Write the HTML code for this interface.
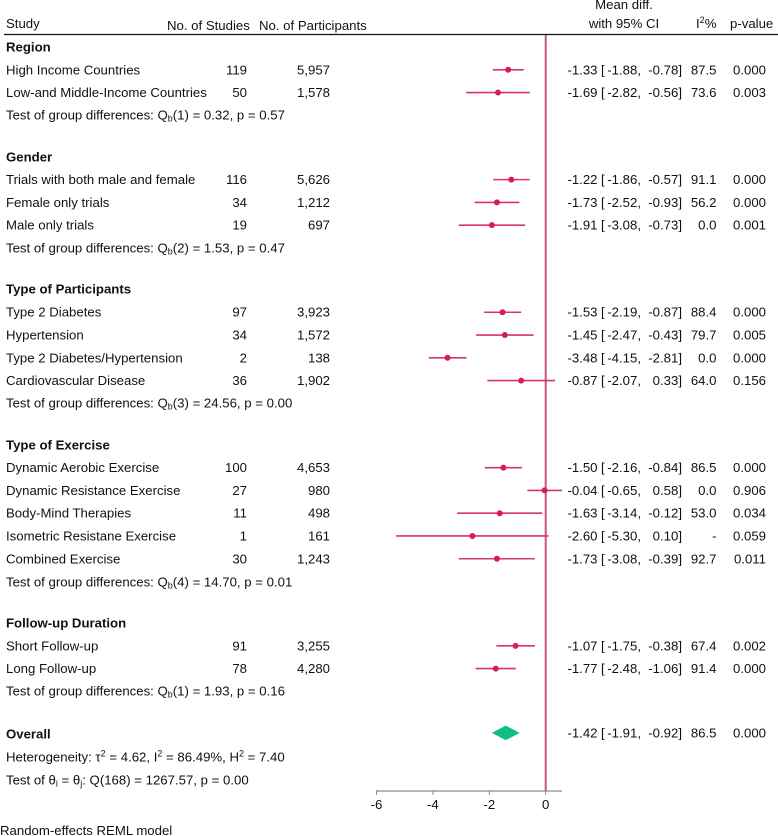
<!DOCTYPE html>
<html lang="en">
<head>
<meta charset="utf-8">
<title>Forest plot</title>
<style>
html,body{margin:0;padding:0;background:#fff;}
svg{display:block;}
text{font-family:"Liberation Sans",Arial,sans-serif;font-size:13.2px;fill:#111;}
.b{font-weight:bold;}
.s{font-size:9px;}
</style>
</head>
<body>
<svg id="chart" width="778" height="836" viewBox="0 0 778 836" xmlns="http://www.w3.org/2000/svg">
  <g>
    <text x="6" y="28">Study</text>
    <text x="167" y="30">No. of Studies</text>
    <text x="259" y="30">No. of Participants</text>
    <text x="624" y="9" text-anchor="middle">Mean diff.</text>
    <text x="624" y="28" text-anchor="middle">with 95% CI</text>
    <text x="696" y="28">I<tspan class="s" dy="-5">2</tspan><tspan dy="5">%</tspan></text>
    <text x="730" y="28">p-value</text>
    <line x1="4" x2="778" y1="34.5" y2="34.5" stroke="#111" stroke-width="1.2"/>
  </g>
  <g>
    <text class="b" x="6" y="51.5">Region</text>
    <text class="b" x="6" y="161.5">Gender</text>
    <text class="b" x="6" y="293.5">Type of Participants</text>
    <text class="b" x="6" y="449.5">Type of Exercise</text>
    <text class="b" x="6" y="627.5">Follow-up Duration</text>
    <text class="b" x="6" y="738.5">Overall</text>
  </g>
  <g>
    <text x="6" y="119.5">Test of group differences: Q<tspan class="s" dy="2">b</tspan><tspan dy="-2">(1) = 0.32, p = 0.57</tspan></text>
    <text x="6" y="252.5">Test of group differences: Q<tspan class="s" dy="2">b</tspan><tspan dy="-2">(2) = 1.53, p = 0.47</tspan></text>
    <text x="6" y="407.5">Test of group differences: Q<tspan class="s" dy="2">b</tspan><tspan dy="-2">(3) = 24.56, p = 0.00</tspan></text>
    <text x="6" y="586.5">Test of group differences: Q<tspan class="s" dy="2">b</tspan><tspan dy="-2">(4) = 14.70, p = 0.01</tspan></text>
    <text x="6" y="695.5">Test of group differences: Q<tspan class="s" dy="2">b</tspan><tspan dy="-2">(1) = 1.93, p = 0.16</tspan></text>
    <text x="6" y="761.5">Heterogeneity: τ<tspan class="s" dy="-5">2</tspan><tspan dy="5"> = 4.62, I</tspan><tspan class="s" dy="-5">2</tspan><tspan dy="5"> = 86.49%, H</tspan><tspan class="s" dy="-5">2</tspan><tspan dy="5"> = 7.40</tspan></text>
    <text x="6" y="784.5">Test of θ<tspan class="s" dy="2">i</tspan><tspan dy="-2"> = θ</tspan><tspan class="s" dy="2">j</tspan><tspan dy="-2">: Q(168) = 1267.57, p = 0.00</tspan></text>
    <text x="0" y="835">Random-effects REML model</text>
  </g>
  <g id="rows"></g>
  <g id="axis"></g>
  <g id="marks"></g>
</svg>
<script>
const sectionSizes = [2, 3, 4, 5, 2];
const categories = [
  "High Income Countries", "Low-and Middle-Income Countries",
  "Trials with both male and female", "Female only trials", "Male only trials",
  "Type 2 Diabetes", "Hypertension", "Type 2 Diabetes/Hypertension", "Cardiovascular Disease",
  "Dynamic Aerobic Exercise", "Dynamic Resistance Exercise", "Body-Mind Therapies", "Isometric Resistane Exercise", "Combined Exercise",
  "Short Follow-up", "Long Follow-up"
];
const studies = [119, 50, 116, 34, 19, 97, 34, 2, 36, 100, 27, 11, 1, 30, 91, 78];
const participants = ["5,957", "1,578", "5,626", "1,212", "697", "3,923", "1,572", "138", "1,902", "4,653", "980", "498", "161", "1,243", "3,255", "4,280"];
const meanDiff = [-1.33, -1.69, -1.22, -1.73, -1.91, -1.53, -1.45, -3.48, -0.87, -1.50, -0.04, -1.63, -2.60, -1.73, -1.07, -1.77];
const ciLower = [-1.88, -2.82, -1.86, -2.52, -3.08, -2.19, -2.47, -4.15, -2.07, -2.16, -0.65, -3.14, -5.30, -3.08, -1.75, -2.48];
const ciUpper = [-0.78, -0.56, -0.57, -0.93, -0.73, -0.87, -0.43, -2.81, 0.33, -0.84, 0.58, -0.12, 0.10, -0.39, -0.38, -1.06];
const iSquared = ["87.5", "73.6", "91.1", "56.2", "0.0", "88.4", "79.7", "0.0", "64.0", "86.5", "0.0", "53.0", "-", "92.7", "67.4", "91.4"];
const pValues = ["0.000", "0.003", "0.000", "0.000", "0.001", "0.000", "0.005", "0.000", "0.156", "0.000", "0.906", "0.034", "0.059", "0.011", "0.002", "0.000"];
const overallMean = -1.42;
const overallLower = -1.91;
const overallUpper = -0.92;
const overallI2 = "86.5";
const overallP = "0.000";
const xTicks = [-6, -4, -2, 0];

const NS = "http://www.w3.org/2000/svg";
const ROW_STEP = 22.78, SECTION_GAP = 41.5, FIRST_TITLE = 47;
const AXIS_Y = 791, TOP_Y = 35;
const LINE_PINK = "#d6336f", MARK_PINK = "#d81b60", REF_LINE = "#c4547d";

function xScale(v) { return 545.7 + v * 28.2; }

function make(tag, attrs, parent) {
  const el = document.createElementNS(NS, tag);
  for (const k in attrs) el.setAttribute(k, attrs[k]);
  parent.appendChild(el);
  return el;
}

function sectionTop(s) {
  let y = FIRST_TITLE;
  for (let i = 0; i < s; i++) y += (sectionSizes[i] + 1) * ROW_STEP + SECTION_GAP;
  return y;
}

function rowCentre(index) {
  let seen = 0;
  for (let s = 0; s < sectionSizes.length; s++) {
    if (index < seen + sectionSizes[s]) return sectionTop(s) + (index - seen + 1) * ROW_STEP;
    seen += sectionSizes[s];
  }
  return sectionTop(sectionSizes.length);
}

function addCell(parent, name, str, x, y, anchor) {
  const t = make("text", { x: x, y: y + 4.5, "text-anchor": anchor }, parent);
  t.textContent = str;
  
  
  return t;
}

function addStats(parent, mean, lo, hi, i2, p, y) {
  addCell(parent, "mean-difference", mean.toFixed(2), 597.5, y, "end");
  addCell(parent, "ci-open-bracket", "[", 601, y, "start");
  addCell(parent, "ci-lower", lo.toFixed(2) + ",", 641, y, "end");
  addCell(parent, "ci-upper", hi.toFixed(2) + "]", 682, y, "end");
  addCell(parent, "i-squared", i2, 716.5, y, "end");
  addCell(parent, "p-value", p, 766, y, "end");
}

const rowsLayer = document.getElementById("rows");
const marksLayer = document.getElementById("marks");
const axisLayer = document.getElementById("axis");

const refLine = make("line", { x1: xScale(0), x2: xScale(0), y1: TOP_Y, y2: AXIS_Y, stroke: REF_LINE, "stroke-width": 2 }, marksLayer);



categories.forEach(function (label, i) {
  const y = rowCentre(i);
  const row = make("g", {}, rowsLayer);
  
  
  addCell(row, "study-label", label, 6, y, "start");
  addCell(row, "study-count", String(studies[i]), 247, y, "end");
  addCell(row, "participant-count", participants[i], 330, y, "end");
  addStats(row, meanDiff[i], ciLower[i], ciUpper[i], iSquared[i], pValues[i], y);

  const ci = make("line", { x1: xScale(ciLower[i]), x2: xScale(ciUpper[i]), y1: y, y2: y, stroke: LINE_PINK, "stroke-width": 1.6 }, marksLayer);
  
  

  const dot = make("circle", { cx: xScale(meanDiff[i]), cy: y, r: 3, fill: MARK_PINK }, marksLayer);
  
  
});

const overallY = sectionTop(sectionSizes.length);
const overallRow = make("g", {}, rowsLayer);


addStats(overallRow, overallMean, overallLower, overallUpper, overallI2, overallP, overallY);

const diamond = make("polygon", {
  points: [
    [xScale(overallLower), overallY],
    [xScale(overallMean), overallY - 7.3],
    [xScale(overallUpper), overallY],
    [xScale(overallMean), overallY + 7.3]
  ].map(function (p) { return p.join(","); }).join(" "),
  fill: "#0fbf82"
}, marksLayer);



const axisLine = make("line", { x1: xScale(-6) - 0.5, x2: 562, y1: AXIS_Y, y2: AXIS_Y, stroke: "#8a8a8a", "stroke-width": 1.3 }, axisLayer);



xTicks.forEach(function (v) {
  const tick = make("line", { x1: xScale(v), x2: xScale(v), y1: AXIS_Y, y2: AXIS_Y + 4, stroke: "#8a8a8a", "stroke-width": 1 }, axisLayer);
  
  
  const lab = make("text", { x: xScale(v), y: 809, "text-anchor": "middle" }, axisLayer);
  lab.textContent = String(v);
  
  
});
</script>
</body>
</html>
